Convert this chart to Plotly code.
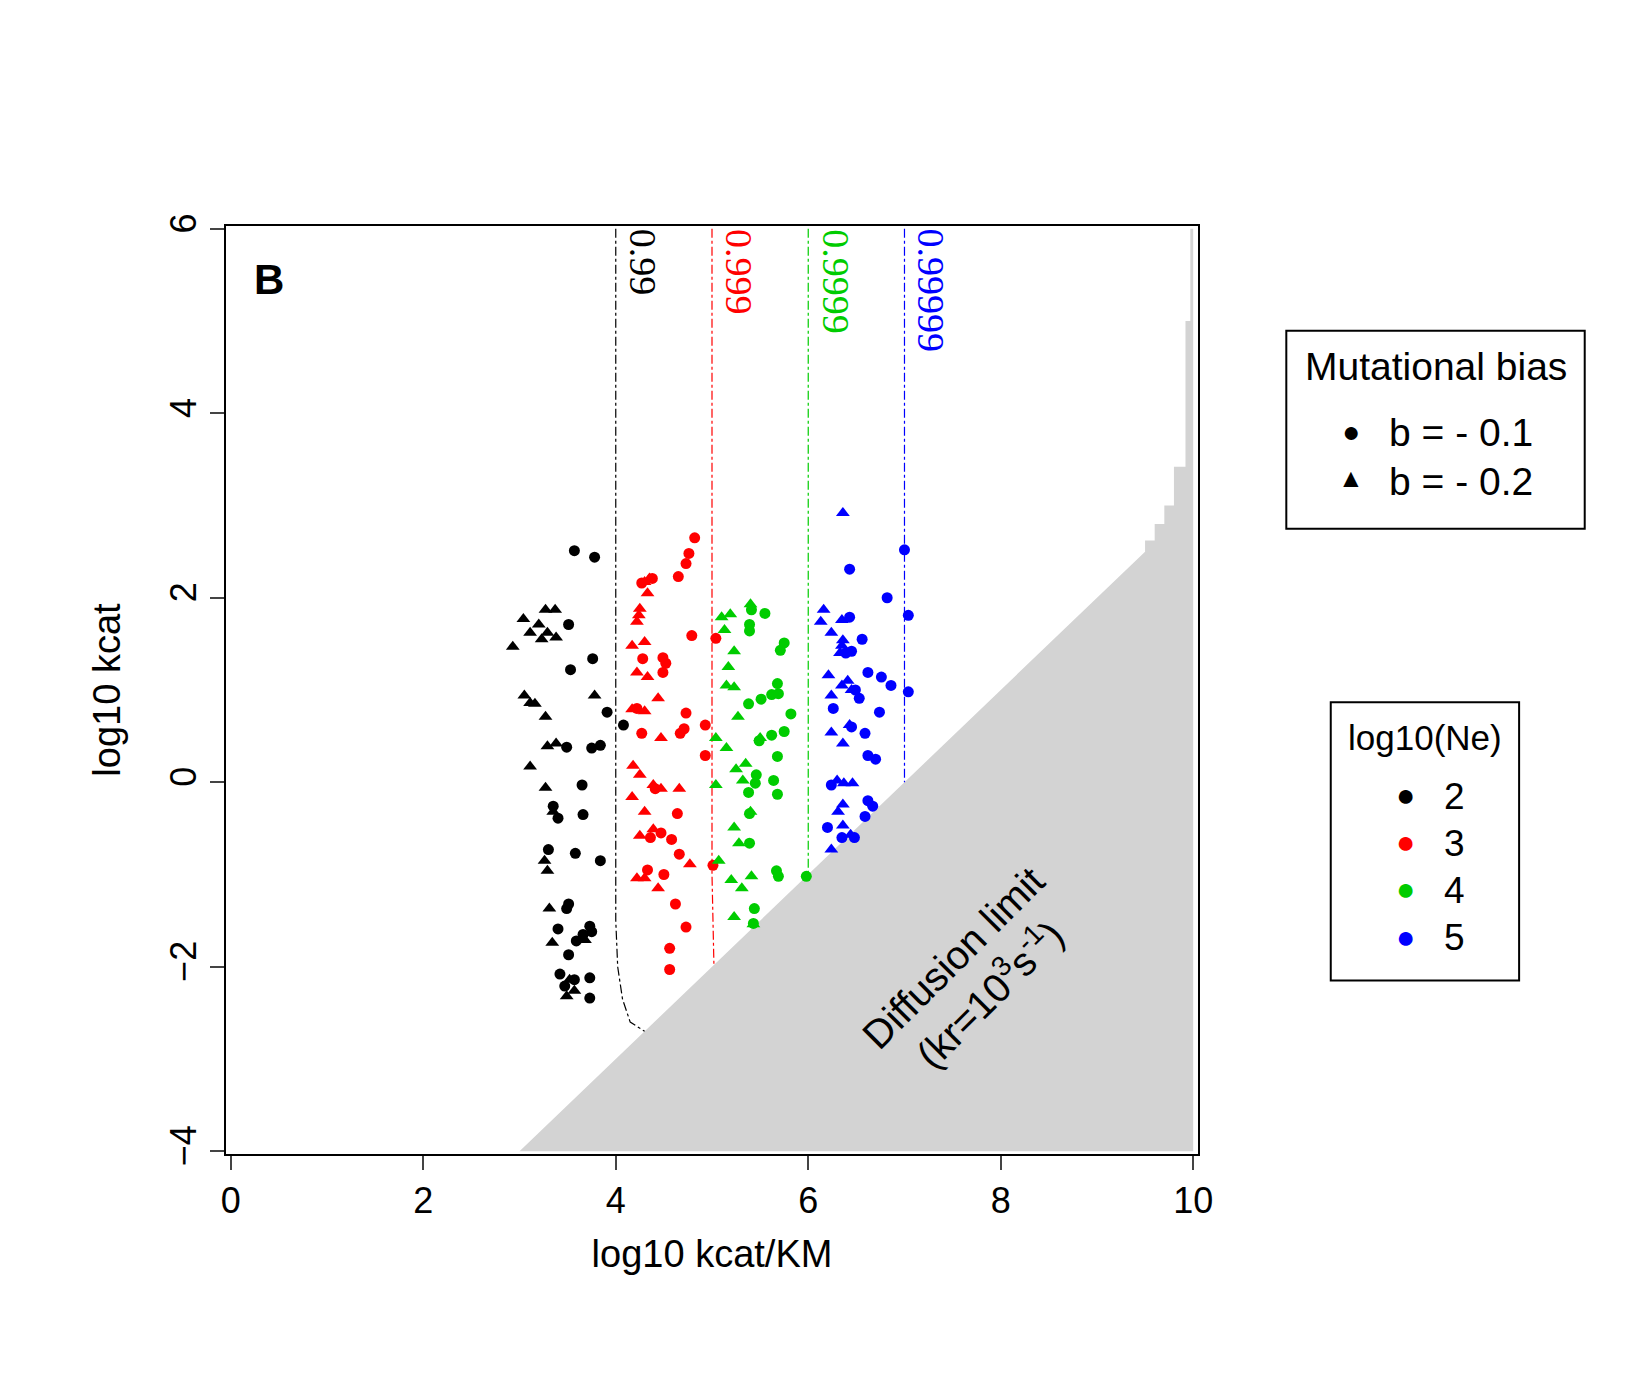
import plotly.graph_objects as go

# colours for log10(Ne) = 2, 3, 4, 5
ne_levels = ["2", "3", "4", "5"]
ne_colors = ["black", "#ff0000", "#00cc00", "#0000ff"]

# b = -0.1 (circles), x = log10 kcat/KM, y = log10 kcat
circ_x = {
    "2": [3.57, 3.78, 3.51, 3.76, 3.53, 3.49, 3.75, 3.84, 3.65, 3.35, 3.40, 3.66, 3.30, 3.58, 3.84, 3.51, 3.49,
          3.73, 3.75, 3.40, 3.66, 3.59, 3.51, 3.42, 3.57, 3.73, 3.47, 3.73, 3.91, 4.08],
    "3": [4.82, 4.76, 4.73, 4.65, 4.38, 4.27, 4.79, 5.04, 4.28, 4.49, 4.52, 4.49, 4.22, 4.73, 4.93, 4.71, 4.67,
          4.27, 4.93, 4.41, 4.64, 4.47, 4.58, 4.66, 4.33, 4.50, 5.01, 4.62, 4.73, 4.56, 4.56, 4.36],
    "4": [5.41, 5.55, 5.39, 5.39, 5.75, 5.71, 5.68, 5.51, 5.62, 5.69, 5.38, 5.82, 5.75, 5.62, 5.49, 5.68, 5.46,
          5.64, 5.45, 5.38, 5.68, 5.39, 5.67, 5.69, 5.39, 5.98, 5.44, 5.43],
    "5": [6.43, 7.00, 6.43, 7.04, 6.56, 6.45, 6.39, 6.82, 6.62, 6.76, 6.86, 7.04, 6.49, 6.26, 6.45, 6.59, 6.74,
          6.53, 6.62, 6.70, 6.24, 6.62, 6.67, 6.59, 6.20, 6.35, 6.48],
}
circ_y = {
    "2": [2.51, 2.44, 1.71, 1.34, 1.22, 0.38, 0.37, 0.40, -0.03, -0.26, -0.39, -0.35, -0.73, -0.77, -0.85, -1.32,
          -1.37, -1.56, -1.62, -1.59, -1.65, -1.72, -1.87, -2.08, -2.14, -2.12, -2.21, -2.34, 0.76, 0.62],
    "3": [2.65, 2.48, 2.37, 2.23, 2.21, 2.16, 1.59, 1.56, 1.34, 1.35, 1.29, 1.19, 0.80, 0.75, 0.62, 0.58, 0.53,
          0.53, 0.29, -0.07, -0.34, -0.55, -0.62, -0.78, -0.95, -1.00, -0.90, -1.32, -1.57, -1.80, -2.03, -0.60],
    "4": [1.87, 1.83, 1.71, 1.64, 1.51, 1.43, 1.07, 0.90, 0.95, 0.96, 0.85, 0.74, 0.55, 0.51, 0.45, 0.28, 0.08,
          0.02, -0.01, -0.11, -0.13, -0.34, -0.96, -1.02, -0.66, -1.02, -1.37, -1.53],
    "5": [2.31, 2.52, 1.79, 1.81, 1.55, 1.42, 1.40, 2.00, 1.19, 1.14, 1.05, 0.98, 1.00, 0.80, 0.60, 0.53, 0.76,
          0.91, 0.29, 0.25, -0.03, -0.20, -0.26, -0.37, -0.49, -0.60, -0.60],
}

# b = -0.2 (triangles)
tri_x = {
    "2": [2.93, 3.04, 3.27, 3.37, 3.11, 3.29, 3.20, 3.38, 3.23, 3.05, 3.11, 3.16, 3.27, 3.78, 3.38, 3.29, 3.11,
          3.27, 3.35, 3.26, 3.29, 3.31, 3.34, 3.52, 3.57, 3.49, 3.68],
    "3": [4.30, 4.35, 4.33, 4.25, 4.22, 4.24, 4.17, 4.30, 4.33, 4.22, 4.30, 4.17, 4.44, 4.47, 4.18, 4.25, 4.17,
          4.30, 4.39, 4.39, 4.47, 4.66, 4.25, 4.22, 4.30, 4.44, 4.77],
    "4": [5.40, 5.10, 5.19, 5.13, 5.23, 5.17, 5.15, 5.23, 5.27, 5.15, 5.04, 5.32, 5.25, 5.35, 5.04, 5.50, 5.40,
          5.23, 5.28, 5.20, 5.41, 5.31, 5.07, 5.23, 5.43],
    "5": [6.16, 6.35, 6.13, 6.24, 6.35, 6.33, 6.21, 6.35, 6.24, 6.41, 6.45, 6.36, 6.36, 6.24, 6.36, 6.30, 6.37,
          6.46, 6.36, 6.31, 6.36, 6.44, 6.24, 6.43],
}
tri_y = {
    "2": [1.47, 1.77, 1.87, 1.87, 1.62, 1.62, 1.71, 1.57, 1.55, 0.94, 0.86, 0.85, 0.71, 0.94, 0.42, 0.39, 0.17,
          -0.06, -0.32, -0.85, -0.96, -1.37, -1.74, -2.14, -2.26, -2.32, -1.71],
    "3": [2.17, 2.21, 2.05, 1.88, 1.74, 1.81, 1.48, 1.52, 1.14, 1.19, 0.77, 0.79, 0.91, 0.48, 0.18, 0.08, -0.16,
          -0.32, -0.51, -0.03, -0.07, -0.07, -0.58, -1.04, -1.04, -1.15, -0.89],
    "4": [1.93, 1.79, 1.82, 1.65, 1.42, 1.25, 1.05, 1.03, 0.71, 0.37, 0.48, 0.02, 0.14, 0.20, -0.03, 0.48, -0.32,
          -0.49, -0.66, -1.06, -1.02, -1.15, -0.85, -1.46, -1.54],
    "5": [1.87, 1.76, 1.74, 1.62, 1.48, 1.40, 1.16, 1.05, 0.94, 1.10, 1.00, 2.92, 1.54, 0.54, 0.42, 0.02, -0.01,
          -0.01, -0.24, -0.32, -0.47, -0.57, -0.73, 0.62],
}

# diffusion-limit boundary (grey region below it)
limit_x = [3.0, 9.5, 9.5, 9.6, 9.6, 9.7, 9.7, 9.8, 9.8, 9.92, 9.92, 9.97, 9.97, 10.0, 10.0, 3.0]
limit_y = [-4.0, 2.5, 2.62, 2.62, 2.8, 2.8, 3.0, 3.0, 3.42, 3.42, 5.0, 5.0, 6.0, 6.0, -4.0, -4.0]

# iso-fitness contour lines
contour_labels = ["0.99", "0.999", "0.9999", "0.99999"]
contour_x = [[4.0, 4.0, 4.02, 4.07, 4.15, 4.3], [5.0, 5.0, 5.02], [6.0, 6.0], [7.0, 7.0]]
contour_y = [[6.0, -1.5, -2.0, -2.35, -2.6, -2.7], [6.0, -1.0, -1.98], [6.0, -1.0], [6.0, 0.0]]

FONT = "Liberation Sans"
W, H = 1650, 1380
L, R, T, B = 218, 460, 218, 234

# reference pixel positions below were read at 0.945 scale
S = 1 / 0.945


def px(x):
    return (x * S - L) / (W - L - R)


def py(y):
    return 1 - (y * S - T) / (H - T - B)


fig = go.Figure()

fig.add_trace(go.Scatter(x=limit_x, y=limit_y, fill="toself", fillcolor="#d3d3d3",
                         line=dict(width=0), mode="lines", hoverinfo="skip"))

for i in range(len(contour_labels)):
    fig.add_trace(go.Scatter(x=contour_x[i], y=contour_y[i], mode="lines",
                             line=dict(color=ne_colors[i], width=1.2, dash="dashdot")))
    fig.add_annotation(x=contour_x[i][0] + 0.04, y=6.02, text=contour_labels[i], textangle=90,
                       showarrow=False, xanchor="left", yanchor="top",
                       font=dict(family="Liberation Serif", size=38, color=ne_colors[i]))

for i, lev in enumerate(ne_levels):
    fig.add_trace(go.Scatter(x=circ_x[lev], y=circ_y[lev], mode="markers",
                             marker=dict(symbol="circle", size=11, color=ne_colors[i])))
    fig.add_trace(go.Scatter(x=tri_x[lev], y=tri_y[lev], mode="markers",
                             marker=dict(symbol="triangle-up", size=12, color=ne_colors[i])))

fig.add_annotation(x=0.4, y=5.45, text="<b>B</b>", showarrow=False,
                   font=dict(family=FONT, size=42, color="black"))
fig.add_annotation(x=7.7, y=-2.1, text="Diffusion limit<br>(kr=10<sup>3</sup>s<sup>-1</sup>)",
                   textangle=-45, showarrow=False, font=dict(family=FONT, size=40, color="black"))


def legend_text(x, y, text, size, color="black", anchor="center"):
    fig.add_annotation(xref="paper", yref="paper", x=px(x), y=py(y), text=text, showarrow=False,
                       xanchor=anchor, yanchor="middle", font=dict(family=FONT, size=size, color=color))


# legend boxes
fig.add_shape(type="rect", xref="paper", yref="paper", x0=px(1208), x1=px(1490), y0=py(492), y1=py(305),
              line=dict(color="black", width=2))
legend_text(1349, 339, "Mutational bias", 39)
legend_text(1269, 400, "\u25cf", 30)
legend_text(1269, 444, "\u25b2", 26)
legend_text(1303, 401, "b = - 0.1", 39, anchor="left")
legend_text(1303, 447, "b = - 0.2", 39, anchor="left")

fig.add_shape(type="rect", xref="paper", yref="paper", x0=px(1250), x1=px(1428), y0=py(919), y1=py(656),
              line=dict(color="black", width=2))
legend_text(1339, 689, "log10(Ne)", 35)
for i, lev in enumerate(ne_levels):
    yy = 744 + i * 44.5
    legend_text(1321, yy, "\u25cf", 32, color=ne_colors[i])
    legend_text(1355, yy + 1, lev, 37, anchor="left")

fig.update_xaxes(range=[-0.05, 10.05], tickvals=[0, 2, 4, 6, 8, 10], ticks="outside", ticklen=14,
                 tickwidth=2, showline=True, linecolor="black", linewidth=2, mirror=True,
                 showgrid=False, zeroline=False, title=dict(text="log10 kcat/KM", standoff=20),
                 title_font=dict(family=FONT, size=38, color="black"),
                 tickfont=dict(family=FONT, size=36, color="black"))
fig.update_yaxes(range=[-4.03, 6.03], tickvals=[-4, -2, 0, 2, 4, 6], ticks="outside", ticklen=14,
                 tickwidth=2, showline=True, linecolor="black", linewidth=2, mirror=True,
                 showgrid=False, zeroline=False, tickangle=-90, title=dict(text="log10 kcat", standoff=30),
                 title_font=dict(family=FONT, size=38, color="black"),
                 tickfont=dict(family=FONT, size=36, color="black"))
fig.update_layout(width=W, height=H, margin=dict(l=L, r=R, t=T, b=B), showlegend=False,
                  plot_bgcolor="white", paper_bgcolor="white", font=dict(color="black"))

fig.write_html("out.html")
